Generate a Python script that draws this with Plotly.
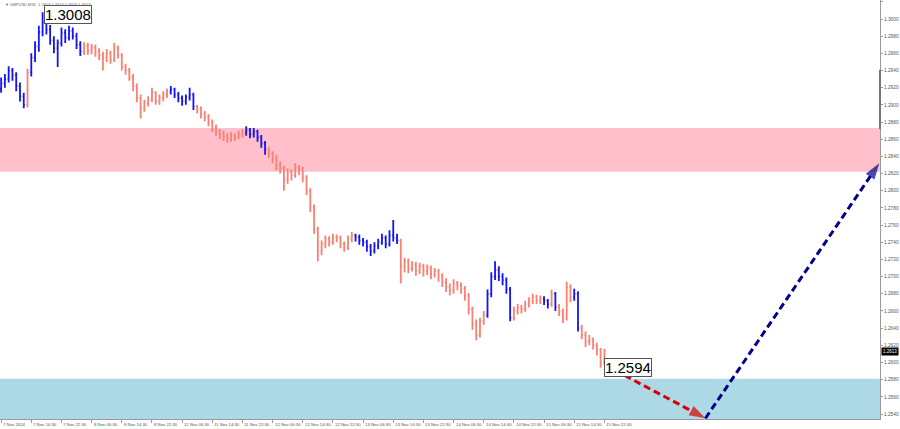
import plotly.graph_objects as go

# ---------------- data (GBPUSD, hourly-equivalent bars) ----------------
open_ = [1.2918,1.2925,1.2930,1.2940,1.2935,1.2922,1.2910,1.2900,1.2938,1.2955,
         1.2968,1.2985,1.2996,1.2988,1.2975,1.2966,1.2972,1.2984,1.2978,1.2986,
         1.2980,1.2970,1.2962,1.2968,1.2963,1.2967,1.2962,1.2958,1.2955,1.2960,
         1.2953,1.2966,1.2958,1.2944,1.2940,1.2932,1.2922,1.2908,1.2896,1.2902,
         1.2906,1.2914,1.2904,1.2908,1.2912,1.2916,1.2918,1.2912,1.2908,1.2904,
         1.2909,1.2912,1.2898,1.2895,1.2889,1.2886,1.2880,1.2873,1.2869,1.2866,
         1.2863,1.2861,1.2864,1.2863,1.2866,1.2868,1.2871,1.2866,1.2869,1.2862,
         1.2855,1.2848,1.2843,1.2838,1.2830,1.2826,1.2812,1.2822,1.2818,1.2827,
         1.2825,1.2815,1.2800,1.2780,1.2755,1.2730,1.2738,1.2744,1.2740,1.2746,
         1.2745,1.2738,1.2734,1.2744,1.2748,1.2746,1.2742,1.2740,1.2735,1.2730,
         1.2736,1.2740,1.2745,1.2738,1.2748,1.2745,1.2742,1.2712,1.2718,1.2710,
         1.2714,1.2707,1.2712,1.2706,1.2710,1.2703,1.2706,1.2700,1.2694,1.2688,
         1.2684,1.2692,1.2690,1.2686,1.2678,1.2662,1.2645,1.2632,1.2648,1.2655,
         1.2680,1.2700,1.2708,1.2700,1.2696,1.2685,1.2652,1.2660,1.2664,1.2662,
         1.2668,1.2672,1.2676,1.2672,1.2674,1.2672,1.2668,1.2680,1.2665,1.2660,
         1.2652,1.2688,1.2676,1.2680,1.2640,1.2632,1.2624,1.2626,1.2620,1.2614,
         1.2600]
high = [1.2932,1.2936,1.2945,1.2943,1.2938,1.2926,1.2914,1.2942,1.2960,1.2974,
        1.2992,1.3008,1.3001,1.2993,1.2980,1.2976,1.2990,1.2988,1.2992,1.2990,
        1.2984,1.2974,1.2973,1.2972,1.2971,1.2970,1.2966,1.2962,1.2965,1.2963,
        1.2972,1.2969,1.2960,1.2948,1.2943,1.2936,1.2925,1.2912,1.2906,1.2910,
        1.2920,1.2916,1.2912,1.2916,1.2919,1.2922,1.2920,1.2915,1.2911,1.2912,
        1.2920,1.2914,1.2900,1.2898,1.2893,1.2889,1.2883,1.2877,1.2872,1.2870,
        1.2867,1.2868,1.2867,1.2870,1.2872,1.2875,1.2873,1.2873,1.2871,1.2865,
        1.2858,1.2851,1.2846,1.2842,1.2834,1.2829,1.2826,1.2825,1.2832,1.2830,
        1.2828,1.2818,1.2803,1.2784,1.2758,1.2742,1.2748,1.2747,1.2750,1.2749,
        1.2748,1.2741,1.2748,1.2752,1.2750,1.2749,1.2745,1.2743,1.2738,1.2740,
        1.2744,1.2750,1.2748,1.2754,1.2766,1.2750,1.2744,1.2722,1.2721,1.2718,
        1.2717,1.2716,1.2715,1.2714,1.2713,1.2710,1.2709,1.2704,1.2698,1.2692,
        1.2697,1.2695,1.2693,1.2689,1.2681,1.2665,1.2650,1.2652,1.2660,1.2685,
        1.2705,1.2718,1.2712,1.2704,1.2699,1.2688,1.2665,1.2668,1.2667,1.2672,
        1.2676,1.2680,1.2679,1.2678,1.2677,1.2674,1.2685,1.2682,1.2668,1.2663,
        1.2694,1.2691,1.2686,1.2683,1.2644,1.2636,1.2632,1.2629,1.2623,1.2617,
        1.2616]
low = [1.2914,1.2920,1.2926,1.2928,1.2916,1.2904,1.2896,1.2897,1.2933,1.2950,
       1.2962,1.2980,1.2982,1.2970,1.2960,1.2944,1.2968,1.2972,1.2975,1.2976,
       1.2965,1.2957,1.2958,1.2958,1.2959,1.2956,1.2952,1.2940,1.2950,1.2948,
       1.2950,1.2954,1.2940,1.2935,1.2928,1.2916,1.2903,1.2884,1.2892,1.2898,
       1.2903,1.2900,1.2900,1.2904,1.2908,1.2912,1.2908,1.2903,1.2899,1.2900,
       1.2905,1.2894,1.2890,1.2884,1.2881,1.2875,1.2868,1.2864,1.2860,1.2858,
       1.2856,1.2857,1.2858,1.2860,1.2862,1.2864,1.2861,1.2862,1.2857,1.2850,
       1.2842,1.2838,1.2832,1.2824,1.2820,1.2800,1.2808,1.2812,1.2815,1.2818,
       1.2810,1.2795,1.2775,1.2750,1.2718,1.2725,1.2733,1.2735,1.2737,1.2740,
       1.2733,1.2729,1.2731,1.2740,1.2741,1.2737,1.2735,1.2729,1.2724,1.2727,
       1.2732,1.2737,1.2733,1.2735,1.2741,1.2738,1.2692,1.2705,1.2704,1.2706,
       1.2701,1.2703,1.2700,1.2702,1.2697,1.2699,1.2694,1.2688,1.2682,1.2678,
       1.2680,1.2684,1.2680,1.2672,1.2656,1.2638,1.2626,1.2629,1.2644,1.2652,
       1.2676,1.2696,1.2695,1.2690,1.2680,1.2648,1.2649,1.2656,1.2657,1.2659,
       1.2664,1.2668,1.2668,1.2668,1.2667,1.2663,1.2665,1.2660,1.2654,1.2646,
       1.2649,1.2670,1.2672,1.2636,1.2627,1.2618,1.2620,1.2615,1.2608,1.2594,
       1.2597]
close = [1.2925,1.2930,1.2940,1.2935,1.2922,1.2910,1.2900,1.2938,1.2955,1.2968,
         1.2985,1.2996,1.2988,1.2975,1.2966,1.2972,1.2984,1.2978,1.2986,1.2980,
         1.2970,1.2962,1.2968,1.2963,1.2967,1.2962,1.2958,1.2955,1.2960,1.2953,
         1.2966,1.2958,1.2944,1.2940,1.2932,1.2922,1.2908,1.2896,1.2902,1.2906,
         1.2914,1.2904,1.2908,1.2912,1.2916,1.2918,1.2912,1.2908,1.2904,1.2909,
         1.2912,1.2898,1.2895,1.2889,1.2886,1.2880,1.2873,1.2869,1.2866,1.2863,
         1.2861,1.2864,1.2863,1.2866,1.2868,1.2871,1.2866,1.2869,1.2862,1.2855,
         1.2848,1.2843,1.2838,1.2830,1.2826,1.2812,1.2822,1.2818,1.2827,1.2825,
         1.2815,1.2800,1.2780,1.2755,1.2730,1.2738,1.2744,1.2740,1.2746,1.2745,
         1.2738,1.2734,1.2744,1.2748,1.2746,1.2742,1.2740,1.2735,1.2730,1.2736,
         1.2740,1.2745,1.2738,1.2748,1.2745,1.2742,1.2712,1.2718,1.2710,1.2714,
         1.2707,1.2712,1.2706,1.2710,1.2703,1.2706,1.2700,1.2694,1.2688,1.2684,
         1.2692,1.2690,1.2686,1.2678,1.2662,1.2645,1.2632,1.2648,1.2655,1.2680,
         1.2700,1.2708,1.2700,1.2696,1.2685,1.2652,1.2660,1.2664,1.2662,1.2668,
         1.2672,1.2676,1.2672,1.2674,1.2672,1.2668,1.2680,1.2665,1.2660,1.2652,
         1.2688,1.2676,1.2680,1.2640,1.2632,1.2624,1.2626,1.2620,1.2614,1.2600,
         1.2613]

# wave segments: first bar index of each segment and its colour role
wave_starts = [0, 7, 8, 22, 45, 52, 65, 71, 94, 106, 129, 136, 144, 146, 147, 148, 152, 154]
wave_roles = ["blue", "salmon", "blue", "salmon", "blue", "salmon", "blue", "salmon", "blue",
              "salmon", "blue", "salmon", "blue", "salmon", "blue", "salmon", "blue", "salmon"]

# x-axis labels every 8 bars
tick_bars = [0, 8, 16, 24, 32, 40, 48, 56, 64, 72, 80, 88, 96, 104, 112, 120, 128, 136, 144, 152, 160]
tick_text = ["7 Nov 2024", "7 Nov 14:30", "7 Nov 22:30", "8 Nov 06:30", "8 Nov 14:30",
             "8 Nov 22:30", "11 Nov 06:30", "11 Nov 14:30", "11 Nov 22:30", "12 Nov 06:30",
             "12 Nov 14:30", "12 Nov 22:30", "13 Nov 06:30", "13 Nov 14:30", "13 Nov 22:30",
             "14 Nov 06:30", "14 Nov 14:30", "14 Nov 22:30", "15 Nov 06:30", "15 Nov 14:30",
             "15 Nov 22:30"]

price_ticks = [1.2540, 1.2560, 1.2580, 1.2600, 1.2620, 1.2640, 1.2660, 1.2680, 1.2700,
               1.2720, 1.2740, 1.2760, 1.2780, 1.2800, 1.2820, 1.2840, 1.2860, 1.2880,
               1.2900, 1.2920, 1.2940, 1.2960, 1.2980, 1.3000, 1.3020]

resistance_zone = [1.2822, 1.2873]
support_zone = [1.2530, 1.2581]

high_label = (11, 1.3008)
low_label = (159, 1.2594)
current_price = 1.2613

red_arrow_x = [160.2, 186.8]
red_arrow_y = [1.2597, 1.2535]
blue_arrow_x = [186.8, 232.9]
blue_arrow_y = [1.2535, 1.2832]

title_text = "\u25bc GBPUSD,M30  1.2603 1.2613 1.2603 1.2613"

# ---------------- styles ----------------
COL = {"blue": "#1414F5", "salmon": "#FA8072"}
Y_RANGE = [1.253418, 1.302213]
X_RANGE = [-0.3, 233.1]
TINY = "Liberation Sans, Arial, sans-serif"

fig = go.Figure()

# background zones
fig.add_shape(type="rect", xref="paper", x0=0, x1=1, yref="y",
              y0=resistance_zone[0], y1=resistance_zone[1],
              fillcolor="#FFC0CB", line_width=0, layer="below")
fig.add_shape(type="rect", xref="paper", x0=0, x1=1, yref="y",
              y0=support_zone[0], y1=support_zone[1],
              fillcolor="#ADD8E6", line_width=0, layer="below")

# bars grouped by wave colour
bar_role = []
for k, s in enumerate(wave_starts):
    e = wave_starts[k + 1] if k + 1 < len(wave_starts) else len(close)
    bar_role += [wave_roles[k]] * (e - s)

for role in ["salmon", "blue"]:
    idx = [i for i, r in enumerate(bar_role) if r == role]
    fig.add_trace(go.Ohlc(
        x=idx,
        open=[open_[i] for i in idx], high=[high[i] for i in idx],
        low=[low[i] for i in idx], close=[close[i] for i in idx],
        increasing=dict(line=dict(color=COL[role], width=1.8)),
        decreasing=dict(line=dict(color=COL[role], width=1.8)),
        tickwidth=0.3, showlegend=False, hoverinfo="skip"))

# forecast arrows
for xs, ys, col in [(red_arrow_x, red_arrow_y, "#D90000"), (blue_arrow_x, blue_arrow_y, "#00008B")]:
    fig.add_trace(go.Scatter(
        x=xs, y=ys, mode="lines+markers",
        line=dict(color=col, width=3, dash="7px,4px"),
        marker=dict(symbol=["circle", "arrow"], size=[0, 17], angleref="previous",
                    color=col, line=dict(width=0)),
        cliponaxis=False, showlegend=False, hoverinfo="skip"))

annotations = []
# price labels
for (bx, by), xs, ys in [(high_label, 1, -2), (low_label, 3, 0)]:
    annotations.append(dict(
        x=bx, y=by, xref="x", yref="y", text=f"{by:.4f}", showarrow=False,
        xanchor="left", yanchor="middle", xshift=xs, yshift=ys,
        font=dict(family="Liberation Sans, Arial", size=15, color="#000"),
        bgcolor="white", bordercolor="#555", borderwidth=1, borderpad=0))

# x labels (left-aligned at tick, like MT4)
for b, t in zip(tick_bars, tick_text):
    annotations.append(dict(
        x=b, y=0, xref="x", yref="paper", text=t, showarrow=False,
        xanchor="left", yanchor="top", xshift=0, yshift=-1,
        font=dict(family=TINY, size=4.3, color="#555")))

# current price tag
annotations.append(dict(
    x=1, y=current_price, xref="paper", yref="y", text=f"{current_price:.4f}",
    showarrow=False, xanchor="left", yanchor="middle", xshift=1,
    font=dict(family=TINY, size=4.5, color="white"),
    bgcolor="black", borderpad=1))

# header
annotations.append(dict(
    x=0, y=1, xref="paper", yref="paper", text=title_text, showarrow=False,
    xanchor="left", yanchor="top", xshift=3, yshift=0,
    font=dict(family=TINY, size=4, color="#666")))

fig.update_layout(
    width=900, height=429,
    margin=dict(l=0, r=20, t=0, b=10, autoexpand=False),
    paper_bgcolor="white", plot_bgcolor="white",
    annotations=annotations,
    xaxis=dict(range=X_RANGE, rangeslider=dict(visible=False), showgrid=False,
               zeroline=False, showline=True, linecolor="#9a9a9a", linewidth=1,
               tickvals=tick_bars, showticklabels=False, ticks="outside",
               ticklen=3, tickcolor="#9a9a9a", automargin=False),
    yaxis=dict(range=Y_RANGE, side="right", showgrid=False, zeroline=False,
               showline=True, linecolor="#9a9a9a", linewidth=1, automargin=False,
               tickvals=price_ticks, tickformat=".4f", ticks="outside", ticklen=2,
               tickcolor="#9a9a9a",
               tickfont=dict(family=TINY, size=4.8, color="#555")),
)

# darker scroll segment on price axis
fig.add_shape(type="line", xref="paper", x0=1, x1=1, yref="y", y0=1.2872, y1=1.2941,
              line=dict(color="#777", width=2))

fig.write_html("out.html", config={"displayModeBar": False},
               post_script="document.body.style.margin='0';document.body.style.overflow='hidden';")
